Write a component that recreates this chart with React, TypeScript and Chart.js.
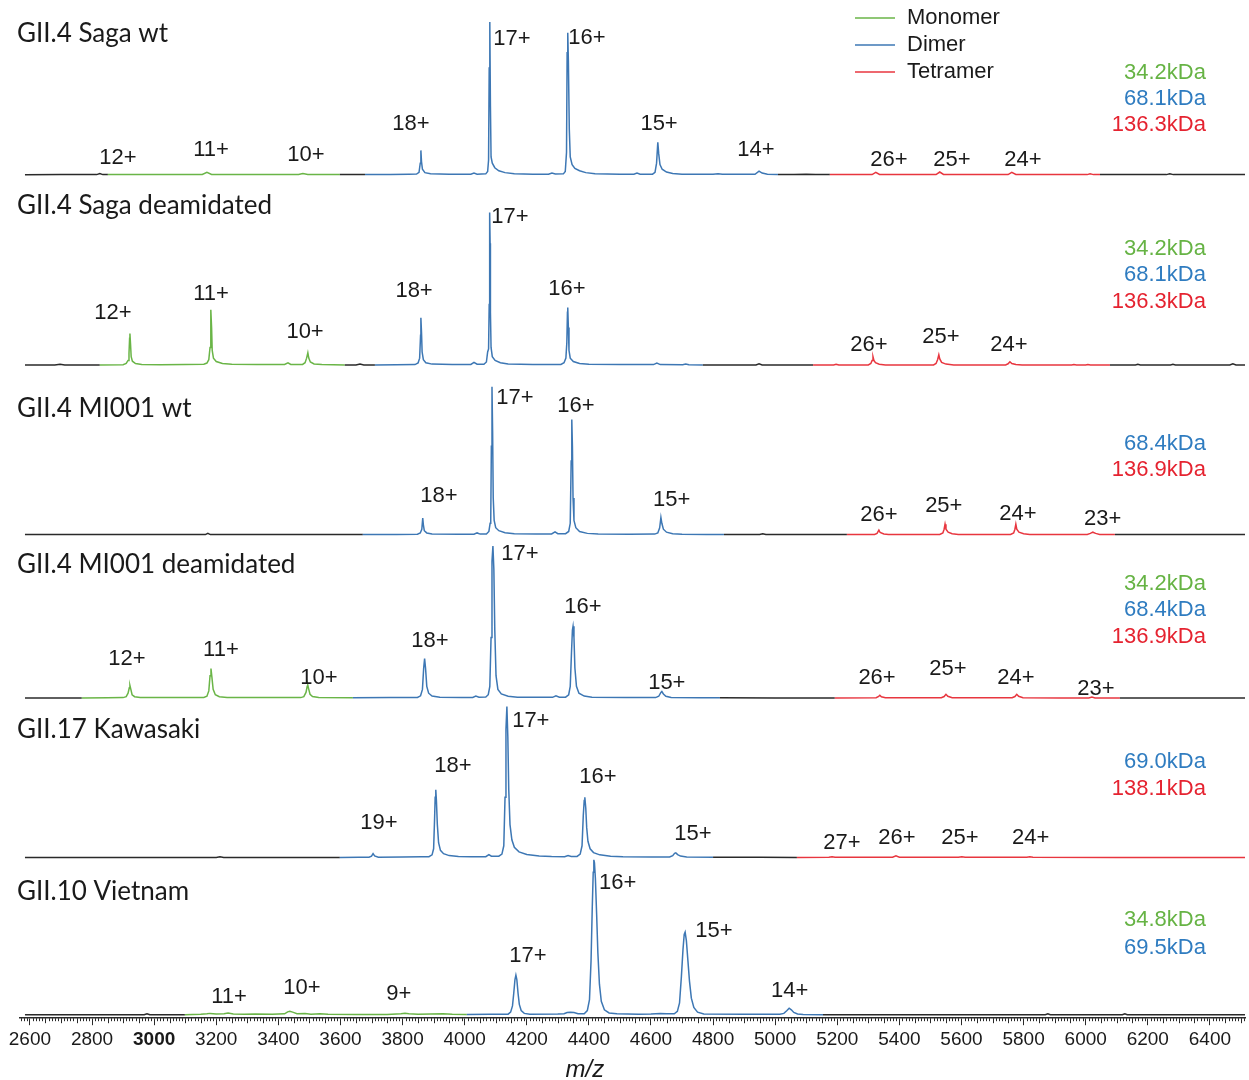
import { useEffect, useRef } from 'react';
import { Chart, registerables } from 'chart.js';

Chart.register(...registerables);

type Pt = [number, number];
type Span = [number, number, string];
type ChargeLabel = [string, number, number];
type MassLabel = [string, string, number];

// ---- m/z axis ----
const MZ_MIN = 2568;
const MZ_MAX = 6513;
const MZ_TICKS = [2600, 2800, 3000, 3200, 3400, 3600, 3800, 4000, 4200, 4400, 4600, 4800, 5000, 5200, 5400, 5600, 5800, 6000, 6200, 6400];

// ---- oligomer colours ----
const SPECIES_COLOR: Record<string, string> = {
  monomer: '#6ab547',
  dimer: '#3d77b4',
  tetramer: '#e8363f',
  other: '#2a2a2a',
};
const MASS_TEXT_COLOR: Record<string, string> = {
  monomer: '#66b344',
  dimer: '#2f7cc0',
  tetramer: '#e52330',
};
const LEGEND_ITEMS: [string, string][] = [
  ['Monomer', 'monomer'],
  ['Dimer', 'dimer'],
  ['Tetramer', 'tetramer'],
];

// ---- sample names ----
const TITLES = [
  'GII.4 Saga wt',
  'GII.4 Saga deamidated',
  'GII.4 MI001 wt',
  'GII.4 MI001 deamidated',
  'GII.17 Kawasaki',
  'GII.10 Vietnam',
];
const TITLE_Y = [92.8, 104.6, 85.1, 88.2, 84.8, 79.4];

// ---- spectra: [m/z, relative intensity %] ----
const SAGA_WT: Pt[] = [
  [2584, 0.4], [2700, 0.5], [2815, 0.5], [2825, 1.2], [2835, 0.5], [2851, 0.5], [2950, 0.6], [3050, 0.5],
  [3155, 0.6], [3170, 2.0], [3185, 0.6], [3300, 0.6], [3400, 0.5], [3465, 0.6], [3479, 1.3], [3495, 0.6],
  [3598, 0.5], [3640, 0.6], [3679, 0.5], [3760, 0.6], [3820, 0.8], [3845, 0.9], [3853, 2], [3857, 8],
  [3859, 16.3], [3861, 9], [3864, 4], [3872, 1.8], [3890, 1.0], [3950, 0.8], [4020, 0.8], [4030, 1.5],
  [4040, 0.8], [4068, 1.0], [4074, 2.5], [4077, 10], [4079, 70], [4081, 100], [4083, 45], [4085, 12],
  [4089, 8], [4097, 5], [4110, 3], [4130, 1.8], [4160, 1.1], [4220, 0.8], [4270, 0.8], [4281, 1.6],
  [4292, 0.9], [4318, 1.0], [4324, 2.5], [4328, 15], [4330, 80], [4332, 93], [4334, 75], [4337, 30],
  [4340, 12], [4346, 7], [4355, 4.5], [4370, 3], [4390, 1.8], [4420, 1.0], [4500, 0.8], [4545, 0.8],
  [4555, 1.5], [4565, 0.8], [4605, 0.8], [4613, 2], [4618, 8], [4622, 21.6], [4625, 14], [4629, 7],
  [4636, 4], [4650, 2.2], [4670, 1.2], [4700, 0.8], [4800, 0.7], [4816, 1.1], [4830, 0.7], [4935, 0.7],
  [4948, 2.8], [4958, 1.5], [4975, 0.7], [5009, 0.6], [5060, 0.5], [5100, 0.8], [5130, 0.5], [5176, 0.5],
  [5250, 0.5], [5312, 0.5], [5324, 2.0], [5336, 0.6], [5420, 0.5], [5518, 0.5], [5530, 2.2], [5542, 0.6],
  [5650, 0.5], [5750, 0.5], [5762, 2.0], [5775, 0.6], [5900, 0.5], [6005, 0.5], [6014, 1.0], [6025, 0.5],
  [6046, 0.5], [6150, 0.5], [6260, 0.5], [6271, 1.0], [6282, 0.5], [6400, 0.5], [6513, 0.5],
];

const SAGA_DEAM: Pt[] = [
  [2584, 0.5], [2680, 0.5], [2697, 1.0], [2712, 0.5], [2825, 0.5], [2900, 0.7], [2910, 1.5], [2916, 3.5],
  [2919, 8], [2921, 18], [2922, 21], [2924, 14], [2926, 6], [2930, 3], [2940, 1.5], [2960, 0.9],
  [3020, 0.7], [3100, 0.8], [3160, 1.0], [3170, 1.8], [3176, 4], [3180, 12], [3182, 33], [3183, 36.6],
  [3185, 25], [3187, 10], [3191, 5], [3200, 2.8], [3220, 1.5], [3250, 1.0], [3330, 0.8], [3420, 0.9],
  [3431, 2], [3440, 0.9], [3478, 0.9], [3486, 2], [3491, 5], [3495, 8.5], [3498, 5], [3503, 2.5],
  [3515, 1.2], [3540, 0.8], [3614, 0.6], [3650, 0.6], [3663, 1.2], [3675, 0.6], [3711, 0.6], [3780, 0.7],
  [3840, 0.8], [3850, 1.8], [3855, 5], [3858, 20], [3859, 31.4], [3861, 22], [3863, 9], [3867, 4],
  [3875, 2], [3895, 1.1], [3960, 0.8], [4020, 0.9], [4030, 2.2], [4040, 1.0], [4062, 1.0], [4070, 2.5],
  [4074, 9], [4077, 11], [4079, 40], [4080, 85], [4081, 100], [4082, 80], [4083, 35], [4085, 12],
  [4089, 6], [4098, 3.5], [4115, 2], [4140, 1.2], [4220, 0.9], [4310, 0.9], [4320, 2], [4326, 5],
  [4329, 15], [4331, 35], [4332, 38], [4334, 25], [4336, 10], [4340, 5], [4350, 2.8], [4370, 1.5],
  [4400, 1.0], [4500, 0.8], [4608, 0.8], [4619, 1.8], [4630, 0.8], [4702, 0.7], [4712, 1.2], [4722, 0.7],
  [4767, 0.6], [4850, 0.5], [4938, 0.5], [4948, 1.3], [4958, 0.5], [5050, 0.5], [5122, 0.5], [5188, 0.5],
  [5196, 1.0], [5205, 0.5], [5300, 0.6], [5308, 1.5], [5312, 3.5], [5315, 5.9], [5318, 3.5], [5323, 2],
  [5335, 1], [5355, 0.6], [5440, 0.5], [5510, 0.6], [5518, 1.5], [5523, 4], [5527, 7.2], [5530, 4.5],
  [5536, 2.2], [5550, 1.1], [5575, 0.6], [5680, 0.5], [5742, 0.6], [5750, 1.3], [5756, 2.6], [5762, 1.5],
  [5775, 0.8], [5795, 0.5], [5900, 0.5], [5955, 0.5], [5962, 0.9], [5970, 0.5], [6000, 0.5], [6007, 0.9],
  [6015, 0.5], [6078, 0.5], [6160, 0.5], [6168, 1.0], [6176, 0.5], [6273, 0.5], [6281, 1.0], [6289, 0.5],
  [6400, 0.5], [6464, 0.5], [6474, 1.3], [6484, 0.5], [6513, 0.5],
];

const MI001_WT: Pt[] = [
  [2584, 0.4], [2800, 0.4], [3000, 0.4], [3165, 0.4], [3173, 1.2], [3181, 0.4], [3400, 0.4], [3672, 0.4],
  [3780, 0.5], [3848, 0.6], [3857, 1.5], [3862, 4], [3865, 11.5], [3867, 7], [3870, 3], [3878, 1.5],
  [3895, 0.8], [3980, 0.6], [4030, 0.6], [4040, 1.5], [4050, 0.7], [4070, 0.8], [4078, 2.5], [4082, 8],
  [4084, 10], [4086, 60], [4088, 100], [4090, 70], [4092, 25], [4095, 10], [4100, 5], [4110, 3],
  [4130, 1.6], [4160, 1.0], [4230, 0.8], [4280, 0.8], [4291, 2.2], [4300, 1.0], [4325, 1.0], [4335, 2.5],
  [4340, 8], [4343, 50], [4345, 78], [4347, 60], [4349, 25], [4352, 10], [4358, 5], [4370, 2.5],
  [4395, 1.2], [4430, 0.8], [4530, 0.6], [4612, 0.7], [4622, 1.5], [4628, 5], [4632, 12], [4635, 8],
  [4640, 4], [4650, 2], [4670, 1], [4700, 0.6], [4780, 0.5], [4835, 0.5], [4950, 0.4], [4960, 0.9],
  [4970, 0.4], [5100, 0.4], [5231, 0.4], [5320, 0.5], [5328, 1.2], [5334, 3.4], [5338, 1.8], [5350, 0.8],
  [5365, 0.5], [5450, 0.5], [5530, 0.5], [5540, 1.5], [5544, 4], [5547, 7.4], [5550, 4], [5557, 2],
  [5570, 1], [5590, 0.5], [5700, 0.5], [5758, 0.5], [5768, 1.5], [5772, 4], [5775, 7.4], [5778, 4],
  [5785, 2], [5800, 1], [5820, 0.5], [5950, 0.5], [6005, 0.5], [6015, 1.2], [6023, 2], [6032, 1.2],
  [6045, 0.5], [6094, 0.4], [6300, 0.4], [6513, 0.4],
];

const MI001_DEAM: Pt[] = [
  [2584, 0.4], [2700, 0.4], [2767, 0.4], [2850, 0.5], [2900, 0.6], [2910, 1.2], [2916, 3.5], [2920, 7],
  [2922, 8.6], [2925, 6], [2929, 2.5], [2937, 1.2], [2955, 0.7], [3050, 0.6], [3160, 0.7], [3170, 1.5],
  [3176, 5], [3180, 15], [3183, 19.7], [3186, 14], [3190, 6], [3197, 2.5], [3210, 1.2], [3235, 0.7],
  [3350, 0.6], [3472, 0.6], [3482, 1.2], [3489, 4], [3493, 8], [3495, 8.6], [3498, 6], [3502, 2.8],
  [3510, 1.3], [3530, 0.7], [3640, 0.5], [3760, 0.6], [3848, 0.7], [3858, 1.8], [3864, 6], [3868, 20],
  [3871, 26.3], [3874, 20], [3878, 8], [3884, 3.5], [3895, 1.6], [3920, 0.8], [3990, 0.7], [4026, 0.7],
  [4036, 1.6], [4046, 0.9], [4068, 1.0], [4076, 2.5], [4081, 8], [4085, 40], [4088, 90], [4091, 100],
  [4094, 85], [4097, 45], [4101, 15], [4107, 6], [4118, 3], [4140, 1.5], [4170, 0.9], [4240, 0.8],
  [4283, 0.8], [4294, 1.8], [4305, 0.9], [4325, 0.9], [4335, 2.5], [4340, 8], [4344, 30], [4347, 45],
  [4349, 47.4], [4352, 40], [4355, 20], [4360, 8], [4368, 3.5], [4385, 1.6], [4410, 0.9], [4520, 0.6],
  [4615, 0.6], [4625, 1.5], [4632, 4], [4635, 4.6], [4640, 3], [4648, 1.5], [4665, 0.7], [4760, 0.5],
  [4822, 0.5], [5000, 0.4], [5192, 0.4], [5325, 0.5], [5332, 1.2], [5337, 2.2], [5342, 1.2], [5355, 0.5],
  [5450, 0.5], [5535, 0.5], [5544, 1.3], [5550, 2.8], [5556, 1.5], [5570, 0.5], [5680, 0.5], [5763, 0.5],
  [5772, 1.3], [5778, 2.8], [5784, 1.5], [5798, 0.5], [5920, 0.4], [6010, 0.4], [6020, 1.0], [6030, 0.4],
  [6110, 0.4], [6300, 0.4], [6513, 0.4],
];

const KAWASAKI: Pt[] = [
  [2584, 0.3], [2900, 0.3], [3200, 0.3], [3212, 0.8], [3224, 0.3], [3450, 0.3], [3598, 0.3], [3660, 0.4],
  [3692, 0.5], [3700, 1.2], [3705, 2.8], [3710, 1.3], [3722, 0.5], [3800, 0.6], [3860, 0.7], [3885, 0.8],
  [3895, 2], [3900, 6], [3903, 25], [3905, 40], [3907, 45], [3909, 38], [3912, 22], [3916, 10],
  [3922, 5], [3932, 2.8], [3950, 1.5], [3980, 0.9], [4020, 0.7], [4068, 0.8], [4078, 2.2], [4086, 1.1],
  [4110, 1.1], [4120, 2.5], [4126, 8], [4130, 40], [4133, 85], [4136, 100], [4139, 80], [4142, 45],
  [4146, 22], [4152, 12], [4160, 7], [4175, 4], [4200, 2.2], [4240, 1.2], [4280, 0.9], [4322, 0.8],
  [4333, 1.6], [4343, 1.0], [4362, 1.0], [4372, 2.5], [4378, 8], [4382, 28], [4385, 38], [4387, 40],
  [4390, 33], [4393, 20], [4397, 11], [4404, 6], [4415, 3.5], [4435, 2], [4470, 1.1], [4510, 0.7],
  [4600, 0.6], [4660, 0.6], [4670, 1.5], [4676, 3], [4680, 3.3], [4686, 2.2], [4695, 1.2], [4715, 0.6],
  [4800, 0.4], [4950, 0.4], [5070, 0.3], [5173, 0.4], [5183, 0.8], [5193, 0.4], [5300, 0.4], [5378, 0.4],
  [5389, 1.4], [5400, 0.5], [5500, 0.4], [5590, 0.4], [5601, 0.8], [5612, 0.4], [5810, 0.4], [5820, 0.7],
  [5830, 0.4], [6100, 0.3], [6513, 0.3],
];

const VIETNAM: Pt[] = [
  [2584, 0.3], [2800, 0.3], [2968, 0.3], [2977, 1.0], [2986, 0.3], [3099, 0.3], [3150, 0.6], [3170, 0.9],
  [3180, 1.2], [3200, 0.8], [3225, 1.0], [3238, 1.4], [3255, 0.8], [3290, 0.6], [3325, 0.8], [3380, 0.6],
  [3420, 0.9], [3430, 2.2], [3437, 2.6], [3446, 2.0], [3460, 1.0], [3486, 1.1], [3505, 0.7], [3534, 0.9],
  [3560, 0.6], [3650, 0.5], [3750, 0.5], [3795, 0.9], [3808, 1.3], [3820, 1.0], [3850, 0.6], [3930, 1.0],
  [3960, 0.6], [4007, 0.5], [4080, 0.6], [4140, 0.7], [4148, 2], [4154, 6], [4158, 14], [4162, 23],
  [4165, 25.8], [4168, 23], [4172, 14], [4176, 7], [4182, 3], [4192, 1.2], [4210, 0.7], [4300, 0.8],
  [4320, 1.0], [4330, 1.8], [4340, 2], [4352, 1.8], [4365, 1.0], [4385, 1.0], [4395, 3], [4402, 10],
  [4407, 35], [4411, 70], [4414, 92], [4416, 100], [4418, 98], [4421, 88], [4425, 65], [4429, 40],
  [4434, 20], [4440, 9], [4450, 3.5], [4465, 1.5], [4490, 0.9], [4560, 0.7], [4600, 0.8], [4630, 1.2],
  [4650, 1.0], [4675, 0.9], [4685, 2.5], [4692, 8], [4698, 25], [4703, 42], [4707, 52], [4710, 53.5],
  [4714, 48], [4719, 35], [4724, 22], [4730, 11], [4738, 5], [4750, 2], [4770, 0.8], [4900, 0.6],
  [5015, 0.6], [5028, 1.2], [5038, 3], [5045, 4.5], [5052, 3.5], [5060, 1.8], [5072, 0.8], [5090, 0.5],
  [5154, 0.4], [5500, 0.3], [5870, 0.3], [5878, 0.9], [5886, 0.3], [6118, 0.3], [6126, 0.9], [6134, 0.3],
  [6513, 0.3],
];

// ---- m/z ranges assigned to each oligomer ----
const SAGA_WT_SPANS: Span[] = [[2851, 3598, 'monomer'], [3679, 5009, 'dimer'], [5176, 6046, 'tetramer']];
const SAGA_DEAM_SPANS: Span[] = [[2825, 3614, 'monomer'], [3711, 4767, 'dimer'], [5122, 6078, 'tetramer']];
const MI001_WT_SPANS: Span[] = [[3672, 4835, 'dimer'], [5231, 6094, 'tetramer']];
const MI001_DEAM_SPANS: Span[] = [[2767, 3640, 'monomer'], [3640, 4822, 'dimer'], [5192, 6110, 'tetramer']];
const KAWASAKI_SPANS: Span[] = [[3598, 4800, 'dimer'], [5070, 6513, 'tetramer']];
const VIETNAM_SPANS: Span[] = [[3099, 4007, 'monomer'], [4007, 5154, 'dimer']];

// ---- charge state annotations: [text, m/z, intensity] ----
const SAGA_WT_CHARGES: ChargeLabel[] = [
  ['12+', 2883, 11.1], ['11+', 3183, 16.3], ['10+', 3489, 13.1], ['18+', 3827, 33.3], ['17+', 4152, 88.9],
  ['16+', 4394, 89.5], ['15+', 4626, 33.3], ['14+', 4938, 16.3], ['26+', 5366, 9.8], ['25+', 5569, 9.8], ['24+', 5798, 9.8],
];
const SAGA_DEAM_CHARGES: ChargeLabel[] = [
  ['12+', 2867, 34.6], ['11+', 3183, 47.1], ['10+', 3486, 22.2], ['18+', 3837, 49.0], ['17+', 4146, 97.4],
  ['16+', 4329, 50.3], ['26+', 5302, 13.7], ['25+', 5534, 19.0], ['24+', 5753, 13.7],
];
const MI001_WT_CHARGES: ChargeLabel[] = [
  ['18+', 3917, 26.4], ['17+', 4162, 92.6], ['16+', 4358, 87.2], ['15+', 4667, 23.6], ['26+', 5334, 13.5],
  ['25+', 5543, 19.6], ['24+', 5782, 14.2], ['23+', 6055, 10.8],
];
const MI001_DEAM_CHARGES: ChargeLabel[] = [
  ['12+', 2912, 26.3], ['11+', 3215, 32.2], ['10+', 3531, 13.8], ['18+', 3888, 37.5], ['17+', 4178, 94.7],
  ['16+', 4381, 59.9], ['15+', 4651, 10.5], ['26+', 5328, 13.8], ['25+', 5556, 19.7], ['24+', 5775, 13.8], ['23+', 6033, 6.6],
];
const KAWASAKI_CHARGES: ChargeLabel[] = [
  ['19+', 3724, 23.2], ['18+', 3962, 60.9], ['17+', 4213, 90.7], ['16+', 4429, 53.6], ['15+', 4735, 15.9],
  ['27+', 5215, 9.9], ['26+', 5392, 13.2], ['25+', 5595, 13.2], ['24+', 5823, 13.2],
];
const VIETNAM_CHARGES: ChargeLabel[] = [
  ['11+', 3241, 11.6], ['10+', 3476, 17.4], ['9+', 3788, 13.5], ['17+', 4204, 38.1], ['16+', 4493, 85.2],
  ['15+', 4803, 54.2], ['14+', 5047, 15.5],
];

// ---- deconvoluted masses: [text, oligomer, intensity] ----
const SAGA_WT_MASSES: MassLabel[] = [['34.2kDa', 'monomer', 66.7], ['68.1kDa', 'dimer', 49.7], ['136.3kDa', 'tetramer', 32.7]];
const SAGA_DEAM_MASSES: MassLabel[] = [['34.2kDa', 'monomer', 76.5], ['68.1kDa', 'dimer', 59.5], ['136.3kDa', 'tetramer', 41.8]];
const MI001_WT_MASSES: MassLabel[] = [['68.4kDa', 'dimer', 61.5], ['136.9kDa', 'tetramer', 43.9]];
const MI001_DEAM_MASSES: MassLabel[] = [['34.2kDa', 'monomer', 75.0], ['68.4kDa', 'dimer', 57.9], ['136.9kDa', 'tetramer', 40.1]];
const KAWASAKI_MASSES: MassLabel[] = [['69.0kDa', 'dimer', 63.6], ['138.1kDa', 'tetramer', 45.7]];
const VIETNAM_MASSES: MassLabel[] = [['34.8kDa', 'monomer', 61.3], ['69.5kDa', 'dimer', 43.2]];
const MASS_LABEL_MZ = 6387;

const SPECTRA = [SAGA_WT, SAGA_DEAM, MI001_WT, MI001_DEAM, KAWASAKI, VIETNAM];
const SPANS = [SAGA_WT_SPANS, SAGA_DEAM_SPANS, MI001_WT_SPANS, MI001_DEAM_SPANS, KAWASAKI_SPANS, VIETNAM_SPANS];
const CHARGES = [SAGA_WT_CHARGES, SAGA_DEAM_CHARGES, MI001_WT_CHARGES, MI001_DEAM_CHARGES, KAWASAKI_CHARGES, VIETNAM_CHARGES];
const MASSES = [SAGA_WT_MASSES, SAGA_DEAM_MASSES, MI001_WT_MASSES, MI001_DEAM_MASSES, KAWASAKI_MASSES, VIETNAM_MASSES];

// ---- stacked panel geometry, top to bottom (height weight, intensity range) ----
const PANEL_WEIGHT = [177, 190, 169, 163, 159, 158];
const PANEL_MIN = [-1.3, -1.3, -1.35, -1.3, -1.3, -1.9];
const PANEL_MAX = [114.4, 122.9, 112.8, 105.9, 104.0, 100.0];

const SANS = '"Liberation Sans", Arial, sans-serif';
const TITLE_FONT = '26px Lato, "Open Sans", sans-serif';
const TEXT_COLOR = '#1a1a1a';

function speciesAt(spans: Span[], mz: number): string {
  for (const [a, b, s] of spans) if (mz >= a && mz < b) return s;
  return 'other';
}

const textPlugin = {
  id: 'spectrumText',
  afterDraw(chart: any) {
    const { ctx, chartArea } = chart;
    const xs = chart.scales.x;
    ctx.save();

    // minor ticks along the m/z axis
    ctx.strokeStyle = '#2a2a2a';
    ctx.lineWidth = 1;
    for (let v = 2570; v <= MZ_MAX; v += 10) {
      if (v % 200 === 0) continue;
      const px = Math.round(xs.getPixelForValue(v)) + 0.5;
      const len = v % 50 === 0 ? 5 : 3;
      ctx.beginPath();
      ctx.moveTo(px, chartArea.bottom);
      ctx.lineTo(px, chartArea.bottom + len);
      ctx.stroke();
    }

    // axis title
    ctx.fillStyle = TEXT_COLOR;
    ctx.font = `italic 24px ${SANS}`;
    ctx.textAlign = 'center';
    ctx.textBaseline = 'middle';
    ctx.fillText('m/z', xs.getPixelForValue(4387), chartArea.bottom + 52);

    // panel text
    TITLES.forEach((title, i) => {
      const ys = chart.scales['p' + i];
      ctx.font = TITLE_FONT;
      ctx.fillStyle = TEXT_COLOR;
      ctx.textAlign = 'left';
      ctx.textBaseline = 'middle';
      ctx.fillText(title, 17, ys.getPixelForValue(TITLE_Y[i]));

      ctx.font = `22px ${SANS}`;
      ctx.textAlign = 'center';
      for (const [t, mz, y] of CHARGES[i]) {
        ctx.fillText(t, xs.getPixelForValue(mz), ys.getPixelForValue(y));
      }

      ctx.font = `22px ${SANS}`;
      ctx.textAlign = 'right';
      for (const [t, sp, y] of MASSES[i]) {
        ctx.fillStyle = MASS_TEXT_COLOR[sp];
        ctx.fillText(t, xs.getPixelForValue(MASS_LABEL_MZ), ys.getPixelForValue(y));
      }
    });

    // legend
    ctx.font = `22px ${SANS}`;
    ctx.textAlign = 'left';
    ctx.textBaseline = 'middle';
    LEGEND_ITEMS.forEach(([label, sp], i) => {
      const y = 18 + i * 27;
      ctx.strokeStyle = SPECIES_COLOR[sp];
      ctx.lineWidth = 1.5;
      ctx.beginPath();
      ctx.moveTo(855, y);
      ctx.lineTo(895, y);
      ctx.stroke();
      ctx.fillStyle = TEXT_COLOR;
      ctx.fillText(label, 907, y);
    });
    ctx.restore();
  },
};

export default function App() {
  const ref = useRef<HTMLCanvasElement>(null);

  useEffect(() => {
    if (!ref.current) return;

    const datasets = SPECTRA.map((spec, i) => ({
      data: spec.map(([x, y]) => ({ x, y })),
      yAxisID: 'p' + i,
      xAxisID: 'x',
      borderColor: SPECIES_COLOR.other,
      borderWidth: 1.5,
      pointRadius: 0,
      tension: 0,
      clip: false as const,
      segment: {
        borderColor: (c: any) => SPECIES_COLOR[speciesAt(SPANS[i], (c.p0.parsed.x + c.p1.parsed.x) / 2)],
      },
    }));

    const scales: any = {
      x: {
        type: 'linear',
        position: 'bottom',
        min: MZ_MIN,
        max: MZ_MAX,
        afterBuildTicks: (scale: any) => {
          scale.ticks = MZ_TICKS.map((value) => ({ value }));
        },
        grid: { drawOnChartArea: false, drawTicks: true, tickLength: 7, color: '#2a2a2a', lineWidth: 1 },
        border: { display: true, color: '#2a2a2a', width: 1.5 },
        ticks: {
          autoSkip: false,
          maxRotation: 0,
          padding: 3,
          color: TEXT_COLOR,
          font: (c: any) => ({ family: SANS, size: 19, weight: c.tick && c.tick.value === 3000 ? 'bold' : 'normal' }),
          callback: (v: any) => String(v),
        },
      },
    };
    // the layout stacks these axes from the bottom up, so register the lowest panel first
    for (let i = PANEL_WEIGHT.length - 1; i >= 0; i--) {
      scales['p' + i] = {
        type: 'linear',
        display: false,
        position: 'left',
        stack: 'spectra',
        stackWeight: PANEL_WEIGHT[i],
        min: PANEL_MIN[i],
        max: PANEL_MAX[i],
      };
    }

    const chart = new Chart(ref.current, {
      type: 'line',
      data: { datasets } as any,
      options: {
        animation: false,
        responsive: false,
        devicePixelRatio: 1,
        events: [],
        parsing: false,
        normalized: true,
        layout: { padding: { left: 20, right: 4, top: 0, bottom: 26 } },
        plugins: { legend: { display: false }, tooltip: { enabled: false } },
        scales,
      } as any,
      plugins: [textPlugin],
    });
    return () => chart.destroy();
  }, []);

  return (
    <div style={{ position: 'absolute', left: 0, top: 0, width: 1249, height: 1080, background: '#fff' }}>
      <canvas ref={ref} width={1249} height={1080} style={{ display: 'block' }} />
    </div>
  );
}
